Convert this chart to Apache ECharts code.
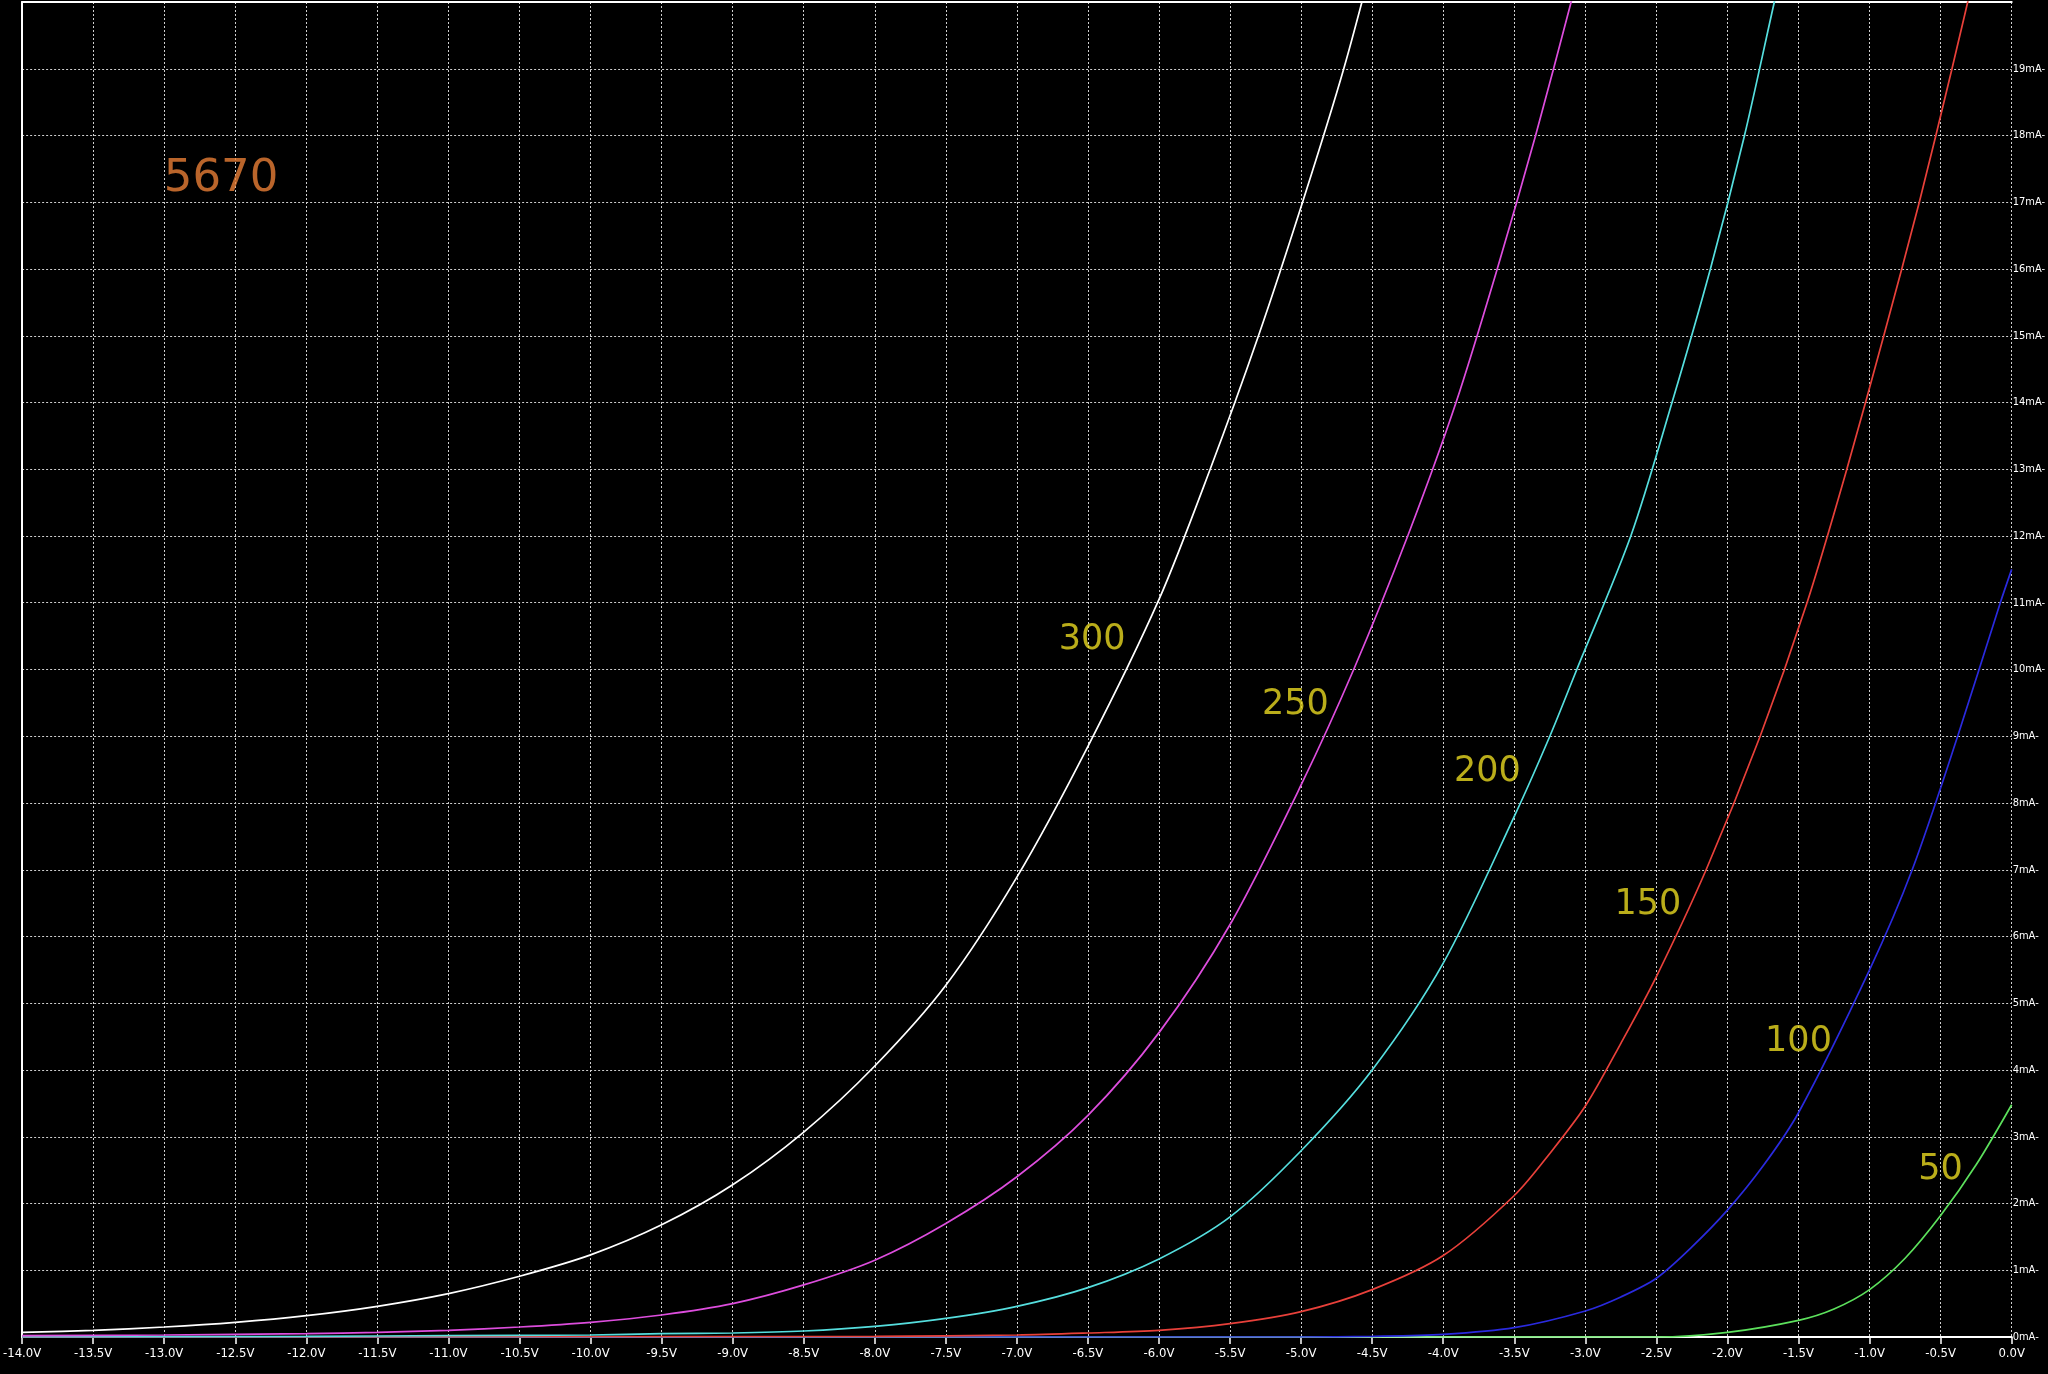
<!DOCTYPE html>
<html>
<head>
<meta charset="utf-8">
<script src="https://cdn.jsdelivr.net/npm/echarts@6/dist/echarts.min.js"></script>
<style>
  html, body { margin: 0; padding: 0; background: #000; }
  #chart { width: 2048px; height: 1374px; }
</style>
</head>
<body>
<div id="chart"></div>
<script>
// ---- data: grid voltage (V) vs plate current (mA), per plate voltage ----
const vg300 = [-14, -13.5, -13, -12.5, -12, -11.5, -11, -10.5, -10, -9.5, -9, -8.5, -8, -7.5, -7, -6.5, -6, -5.64, -5.3, -4.99, -4.7, -4.45];
const ia300 = [0.07, 0.10, 0.15, 0.22, 0.32, 0.46, 0.65, 0.91, 1.23, 1.68, 2.28, 3.07, 4.06, 5.27, 6.89, 8.85, 11.05, 13, 15, 17, 19, 21];

const vg250 = [-14, -13, -12, -11.5, -11, -10.5, -10, -9.5, -9, -8.5, -8, -7.5, -7, -6.5, -6, -5.5, -5, -4.63, -4.25, -3.91, -3.62, -3.35, -3.1, -2.98];
const ia250 = [0.02, 0.03, 0.05, 0.07, 0.10, 0.15, 0.22, 0.33, 0.50, 0.78, 1.15, 1.70, 2.40, 3.32, 4.56, 6.18, 8.27, 10, 12, 14, 16, 18, 20, 21];

const vg200 = [-14, -12, -11, -10, -9.5, -9, -8.5, -8, -7.5, -7, -6.5, -6, -5.5, -5, -4.5, -4, -3.5, -3.25, -3.06, -2.68, -2.39, -2.12, -1.88, -1.67, -1.56];
const ia200 = [0.0, 0.01, 0.02, 0.03, 0.05, 0.06, 0.09, 0.16, 0.28, 0.46, 0.74, 1.17, 1.80, 2.79, 4.0, 5.6, 7.8, 9.0, 10, 12, 14, 16, 18, 20, 21];

const vg150 = [-14, -8, -7, -6.5, -6, -5.5, -5, -4.5, -4, -3.5, -3.25, -3, -2.75, -2.5, -2.15, -1.77, -1.44, -1.16, -0.9, -0.65, -0.42, -0.2];
const ia150 = [0.0, 0.01, 0.03, 0.06, 0.10, 0.20, 0.38, 0.71, 1.22, 2.12, 2.75, 3.46, 4.4, 5.4, 7, 9, 11, 13, 15, 17, 19, 21];

const vg100 = [-14, -5, -4.5, -4, -3.5, -3, -2.75, -2.5, -2.25, -2, -1.75, -1.5, -1, -0.7, -0.38, -0.08, 0];
const ia100 = [0.0, 0.0, 0.01, 0.04, 0.14, 0.39, 0.60, 0.88, 1.35, 1.9, 2.56, 3.36, 5.5, 7, 9, 11, 11.5];

const vg50 = [-14, -3, -2.5, -2, -1.5, -1.25, -1, -0.75, -0.5, -0.25, 0];
const ia50 = [0.0, 0.0, 0.0, 0.07, 0.25, 0.42, 0.71, 1.18, 1.82, 2.58, 3.48];

const curveNames = ['300', '250', '200', '150', '100', '50'];
const curveColors = ['#ffffff', '#dd4ddd', '#55dede', '#e8403a', '#2a2ade', '#5ce05c'];

// annotation text and anchor (V, mA)
const tagText = ['300', '250', '200', '150', '100', '50'];
const tagV = [-6.47, -5.04, -3.69, -2.56, -1.5, -0.5];
const tagI = [10.45, 9.47, 8.47, 6.47, 4.42, 2.51];
const titleText = '5670';
const titleV = -12.6;
const titleI = 17.35;

const xTickMin = -14, xTickMax = 0, xTickStep = 0.5;
const yTickMin = 0, yTickMax = 20, yTickStep = 1;

// ---- build ----
const pairs = (xs, ys) => xs.map((x, i) => [x, ys[i]]);
const curves = [pairs(vg300, ia300), pairs(vg250, ia250), pairs(vg200, ia200), pairs(vg150, ia150), pairs(vg100, ia100), pairs(vg50, ia50)];

const gridStyle = { color: '#cfcfcf', width: 1, type: [2, 2] };

const series = curves.map((d, i) => ({
  name: curveNames[i],
  type: 'line',
  data: d,
  showSymbol: false,
  smooth: 0.3,
  clip: true,
  lineStyle: { color: curveColors[i], width: 1.7 },
  z: 5 - i
}));

series.push({
  type: 'scatter',
  silent: true,
  symbolSize: 1,
  itemStyle: { color: 'rgba(0,0,0,0)' },
  data: tagText.map((t, i) => ({ name: t, value: [tagV[i], tagI[i]] })),
  label: {
    show: true, position: 'inside', formatter: '{b}',
    color: '#e8d820', fontFamily: 'DejaVu Sans', fontSize: 35
  },
  z: 10
});
series.push({
  type: 'scatter',
  silent: true,
  symbolSize: 1,
  itemStyle: { color: 'rgba(0,0,0,0)' },
  data: [{ name: titleText, value: [titleV, titleI] }],
  label: {
    show: true, position: 'inside', formatter: '{b}',
    color: '#e87e36', fontFamily: 'DejaVu Sans', fontSize: 45
  },
  z: 10
});

const chart = echarts.init(document.getElementById('chart'), null, { renderer: 'canvas' });
chart.setOption({
  backgroundColor: '#000000',
  animation: false,
  grid: { left: 1, right: 31, top: 2, bottom: 37, containLabel: false },
  xAxis: [{
    type: 'value', position: 'bottom',
    min: xTickMin, max: xTickMax, interval: xTickStep,
    axisLine: { show: true, onZero: false, lineStyle: { color: '#ffffff', width: 2 } },
    axisTick: { show: true, length: 7, lineStyle: { color: '#ffffff', width: 1.5 } },
    axisLabel: { margin: 10, showMinLabel: true, showMaxLabel: true,
      fontFamily: 'DejaVu Sans Condensed', fontSize: 13, color: '#ffffff',
      formatter: v => v.toFixed(1) + 'V' },
    splitLine: { show: true, lineStyle: gridStyle }
  }, {
    type: 'value', position: 'top',
    min: xTickMin, max: xTickMax, interval: xTickStep,
    axisLine: { show: true, onZero: false, lineStyle: { color: '#ffffff', width: 2 } },
    axisTick: { show: false }, axisLabel: { show: false }, splitLine: { show: false }
  }],
  yAxis: [{
    type: 'value', position: 'right',
    min: yTickMin, max: yTickMax, interval: yTickStep,
    axisLine: { show: false },
    axisTick: { show: false },
    axisLabel: { margin: 1, showMaxLabel: false, align: 'left',
      fontFamily: 'DejaVu Sans Condensed', fontSize: 11, color: '#ffffff',
      formatter: '{value}mA-' },
    splitLine: { show: true, lineStyle: gridStyle }
  }, {
    type: 'value', position: 'left',
    min: yTickMin, max: yTickMax, interval: yTickStep,
    axisLine: { show: true, onZero: false, lineStyle: { color: '#ffffff', width: 2 } },
    axisTick: { show: false }, axisLabel: { show: false }, splitLine: { show: false }
  }],
  series: series
});
</script>
</body>
</html>
